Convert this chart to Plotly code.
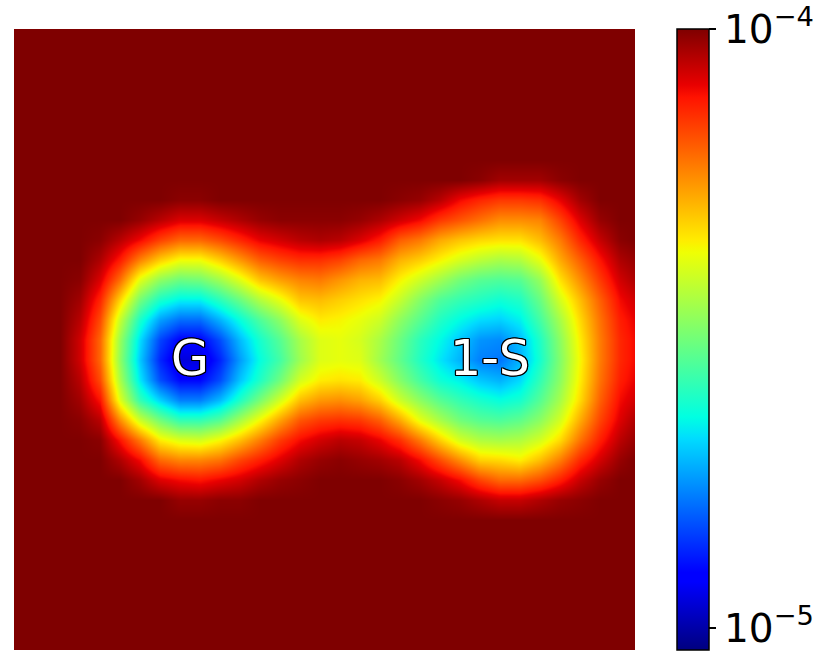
"""Error map with two basins, G and 1-S, on a log colour scale (jet)."""
import numpy as np
import plotly.graph_objects as go

# grid nodes, in picture units
GRID_X = [14, 60, 80, 100, 120, 140, 160, 180, 200, 220, 240, 260, 280, 300, 320, 340,
          360, 380, 400, 420, 440, 460, 480, 500, 520, 540, 560, 580, 600, 620, 635]
GRID_Y = [29, 160, 180, 200, 220, 240, 260, 280, 300, 320, 340, 360, 380, 400, 420,
          440, 460, 480, 500, 520, 650]

# position on the colour scale (percent)
LEVELS = [
    [100, 100, 100, 100, 100, 100, 100, 100, 100, 100, 100, 100, 100, 100, 100, 100, 100, 100, 100, 100, 100, 100, 100, 100, 100, 100, 100, 100, 100, 100, 100],
    [100, 100, 100, 100, 100, 100, 100, 100, 100, 100, 100, 100, 100, 100, 100, 100, 100, 100, 100, 100, 100, 100, 100, 100, 100, 100, 100, 100, 100, 100, 100],
    [100, 100, 100, 100, 100, 100, 100, 100, 100, 100, 100, 100, 100, 100, 100, 100, 100, 100, 100, 100, 100, 100, 99, 97, 97, 97, 99, 100, 100, 100, 100],
    [100, 100, 100, 100, 100, 100, 100, 99, 99, 100, 100, 100, 100, 100, 100, 100, 100, 100, 99, 98, 95, 90, 87, 85, 85, 86, 91, 97, 100, 100, 100],
    [100, 100, 100, 100, 100, 98, 95, 92, 92, 94, 96, 98, 99, 99, 99, 99, 98, 96, 93, 90, 85, 82, 79, 76, 76, 77, 84, 92, 98, 100, 100],
    [100, 100, 100, 99, 95, 90, 84, 80, 80, 83, 87, 91, 93, 95, 96, 95, 92, 88, 81, 78, 73, 70, 68, 67, 67, 71, 78, 87, 94, 99, 100],
    [100, 100, 100, 96, 88, 77, 69, 64, 64, 69, 75, 81, 84, 86, 86, 84, 80, 78, 72, 69, 65, 61, 58, 56, 57, 63, 73, 81, 89, 96, 98],
    [100, 100, 99, 92, 79, 62, 53, 49, 50, 55, 62, 70, 74, 77, 78, 75, 72, 71, 65, 60, 55, 50, 47, 46, 47, 54, 67, 76, 85, 93, 96],
    [100, 100, 97, 87, 68, 50, 40, 36, 36, 42, 49, 57, 63, 70, 71, 69, 67, 65, 59, 52, 46, 43, 41, 39, 41, 49, 61, 71, 81, 90, 93],
    [100, 100, 95, 83, 59, 40, 28, 23, 23, 30, 38, 46, 53, 62, 66, 65, 63, 60, 53, 47, 41, 37, 34, 33, 36, 45, 56, 68, 79, 88, 91],
    [100, 100, 93, 80, 54, 34, 19, 12, 12, 20, 31, 40, 47, 56, 62, 63, 61, 56, 49, 42, 37, 32, 27, 26, 31, 41, 53, 66, 78, 87, 90],
    [100, 100, 93, 80, 53, 32, 16, 8, 8, 16, 28, 38, 45, 55, 62, 63, 62, 55, 48, 41, 35, 30, 25, 24, 30, 40, 52, 65, 78, 87, 90],
    [100, 100, 95, 83, 56, 35, 20, 13, 13, 20, 32, 41, 50, 61, 66, 67, 66, 60, 52, 45, 39, 36, 32, 30, 34, 43, 53, 66, 79, 88, 91],
    [100, 100, 97, 89, 62, 43, 33, 25, 25, 31, 41, 51, 61, 71, 75, 76, 74, 69, 60, 53, 47, 43, 40, 38, 40, 47, 56, 68, 81, 90, 93],
    [100, 100, 99, 95, 76, 60, 50, 43, 43, 47, 56, 65, 74, 82, 85, 86, 85, 81, 73, 63, 56, 50, 47, 46, 48, 53, 61, 73, 84, 92, 96],
    [100, 100, 100, 99, 89, 78, 66, 62, 61, 65, 71, 78, 85, 90, 93, 95, 94, 91, 86, 78, 69, 61, 57, 56, 57, 61, 68, 79, 88, 95, 98],
    [100, 100, 100, 100, 96, 90, 80, 77, 77, 79, 84, 88, 92, 96, 98, 99, 98, 97, 95, 90, 83, 76, 69, 68, 66, 71, 78, 87, 93, 98, 100],
    [100, 100, 100, 100, 100, 97, 92, 90, 89, 91, 93, 96, 98, 99, 100, 100, 100, 100, 99, 97, 94, 90, 84, 80, 80, 83, 88, 94, 98, 100, 100],
    [100, 100, 100, 100, 100, 100, 100, 98, 98, 99, 99, 100, 100, 100, 100, 100, 100, 100, 100, 100, 99, 98, 96, 94, 94, 96, 98, 99, 100, 100, 100],
    [100, 100, 100, 100, 100, 100, 100, 100, 100, 100, 100, 100, 100, 100, 100, 100, 100, 100, 100, 100, 100, 100, 100, 100, 100, 100, 100, 100, 100, 100, 100],
    [100, 100, 100, 100, 100, 100, 100, 100, 100, 100, 100, 100, 100, 100, 100, 100, 100, 100, 100, 100, 100, 100, 100, 100, 100, 100, 100, 100, 100, 100, 100],
]

# colour limits, log10
LOG_MIN = -5.0367
LOG_MAX = -4.0

TICK_VALS = [-5, -4]
TICK_TEXT = ["10<sup>\u22125</sup>", "10<sup>\u22124</sup>"]

BASIN_NAMES = ["G", "1-S"]
BASIN_X = [190, 490]
BASIN_Y = [358, 358]

# matplotlib jet
JET = [
    [0.00, "rgb(0,0,127)"],
    [0.11, "rgb(0,0,255)"],
    [0.125, "rgb(0,0,255)"],
    [0.34, "rgb(0,219,255)"],
    [0.35, "rgb(0,230,247)"],
    [0.375, "rgb(0,255,226)"],
    [0.64, "rgb(239,255,4)"],
    [0.65, "rgb(247,246,0)"],
    [0.66, "rgb(255,236,0)"],
    [0.89, "rgb(255,19,0)"],
    [0.91, "rgb(232,0,0)"],
    [1.00, "rgb(127,0,0)"],
]

log_err = LOG_MIN + np.array(LEVELS) / 100 * (LOG_MAX - LOG_MIN)

fig = go.Figure(
    go.Heatmap(
        x=GRID_X,
        y=GRID_Y,
        z=log_err,
        zsmooth="best",
        zmin=LOG_MIN,
        zmax=LOG_MAX,
        colorscale=JET,
        colorbar=dict(
            x=(677 - 14) / 621,
            xanchor="left",
            xpad=0,
            ypad=0,
            y=0.5,
            yanchor="middle",
            len=1,
            thickness=32,
            outlinecolor="black",
            outlinewidth=1.5,
            tickmode="array",
            tickvals=TICK_VALS,
            ticktext=TICK_TEXT,
            ticks="outside",
            ticklen=7,
            tickwidth=1.5,
            tickcolor="black",
            tickfont=dict(family="DejaVu Sans", size=39, color="black"),
        ),
    )
)

for name, bx, by in zip(BASIN_NAMES, BASIN_X, BASIN_Y):
    fig.add_annotation(
        x=bx, y=by, text=name, showarrow=False,
        xanchor="center", yanchor="middle",
        font=dict(
            family="DejaVu Sans", size=49, color="white",
            shadow="-1.2px 0 0 #000,1.2px 0 0 #000,0 -1.2px 0 #000,0 1.2px 0 #000,"
                   "-1px -1px 0 #000,1px -1px 0 #000,-1px 1px 0 #000,1px 1px 0 #000",
        ),
    )

fig.update_xaxes(range=[14, 635], visible=False)
fig.update_yaxes(range=[650, 29], visible=False)
fig.update_layout(
    width=830,
    height=665,
    margin=dict(l=14, r=195, t=29, b=15),
    paper_bgcolor="white",
    plot_bgcolor="white",
)

fig.write_html(
    "out.html",
    config={"displayModeBar": False},
    post_script="document.body.style.margin='0';",
)
